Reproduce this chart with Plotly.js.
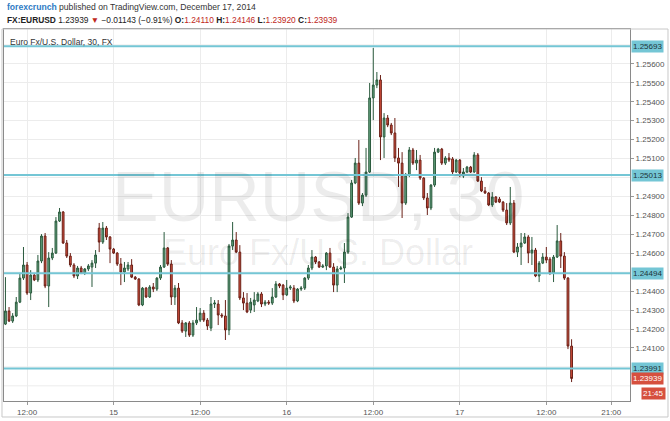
<!DOCTYPE html>
<html>
<head>
<meta charset="utf-8">
<script src="https://cdn.plot.ly/plotly-3.0.1.min.js"></script>
<style>html,body{margin:0;padding:0;background:#fff;}#chart{width:670px;height:421px;}</style>
</head>
<body>
<div id="chart"></div>
<script>
// EURUSD 30-minute candles, first bar 2014-12-14 09:00, one bar every 30 minutes
const firstBar = '2014-12-14T09:00:00Z';
const barMinutes = 30;

const openP = [
1.24226,1.24295,1.24242,1.24269,1.24342,1.24469,1.24538,1.24390,1.24485,1.24459,
1.24559,1.24691,1.24427,1.24575,1.24601,1.24770,1.24818,1.24654,1.24585,1.24538,
1.24480,1.24522,1.24496,1.24517,1.24527,1.24548,1.24733,1.24659,1.24733,1.24686,
1.24622,1.24601,1.24543,1.24501,1.24517,1.24538,1.24474,1.24464,1.24327,1.24416,
1.24369,1.24422,1.24411,1.24469,1.24527,1.24628,1.24543,1.24369,1.24416,1.24232,
1.24189,1.24232,1.24168,1.24232,1.24247,1.24284,1.24247,1.24205,1.24332,1.24332,
1.24274,1.24269,1.24195,1.24638,1.24670,1.24606,1.24364,1.24337,1.24300,1.24327,
1.24348,1.24385,1.24332,1.24342,1.24337,1.24369,1.24438,1.24432,1.24380,1.24416,
1.24416,1.24348,1.24411,1.24416,1.24469,1.24522,1.24580,1.24554,1.24527,1.24533,
1.24601,1.24527,1.24432,1.24517,1.24522,1.24606,1.24791,1.24971,1.25076,1.24865,
1.24907,1.25029,1.25420,1.25488,1.25515,1.25214,1.25314,1.25277,1.25235,1.25103,
1.25076,1.24865,1.25013,1.25145,1.25076,1.25092,1.24997,1.24892,1.24839,1.24960,
1.25134,1.25150,1.25076,1.25103,1.25098,1.25029,1.25092,1.25008,1.25029,1.25055,
1.25029,1.25119,1.24981,1.24929,1.24918,1.24855,1.24897,1.24886,1.24870,1.24828,
1.24760,1.24865,1.24606,1.24633,1.24654,1.24686,1.24601,1.24617,1.24480,1.24548,
1.24580,1.24569,1.24496,1.24580,1.24665,1.24585,1.24469,1.24110
];
const highP = [
1.24474,1.24316,1.24284,1.24369,1.24496,1.24633,1.24554,1.24511,1.24496,1.24591,
1.24701,1.24707,1.24606,1.24628,1.24791,1.24839,1.24823,1.24670,1.24601,1.24548,
1.24533,1.24533,1.24522,1.24543,1.24564,1.24617,1.24760,1.24765,1.24744,1.24691,
1.24628,1.24606,1.24575,1.24554,1.24554,1.24569,1.24480,1.24469,1.24422,1.24422,
1.24432,1.24443,1.24474,1.24538,1.24712,1.24633,1.24564,1.24432,1.24443,1.24247,
1.24237,1.24242,1.24247,1.24316,1.24311,1.24300,1.24258,1.24369,1.24353,1.24353,
1.24284,1.24353,1.24649,1.24765,1.24712,1.24643,1.24395,1.24390,1.24364,1.24395,
1.24395,1.24395,1.24353,1.24353,1.24416,1.24453,1.24443,1.24438,1.24459,1.24432,
1.24432,1.24416,1.24427,1.24474,1.24538,1.24617,1.24585,1.24559,1.24543,1.24606,
1.24628,1.24548,1.24533,1.24533,1.24654,1.24812,1.24987,1.25103,1.25198,1.24918,
1.25156,1.25499,1.25684,1.25557,1.25541,1.25340,1.25330,1.25288,1.25314,1.25156,
1.25134,1.25024,1.25161,1.25156,1.25145,1.25119,1.25002,1.24918,1.24965,1.25156,
1.25156,1.25156,1.25113,1.25129,1.25108,1.25098,1.25098,1.25050,1.25061,1.25061,
1.25134,1.25129,1.25002,1.24950,1.24923,1.24923,1.24902,1.24897,1.24876,1.24865,
1.24950,1.24881,1.24654,1.24707,1.24707,1.24696,1.24686,1.24628,1.24559,1.24601,
1.24633,1.24580,1.24591,1.24749,1.24707,1.24606,1.24474,1.24146
];
const lowP = [
1.24221,1.24237,1.24232,1.24263,1.24337,1.24459,1.24380,1.24353,1.24453,1.24448,
1.24548,1.24416,1.24316,1.24564,1.24596,1.24765,1.24649,1.24575,1.24527,1.24469,
1.24464,1.24490,1.24485,1.24506,1.24422,1.24522,1.24606,1.24649,1.24670,1.24548,
1.24596,1.24533,1.24432,1.24448,1.24506,1.24469,1.24459,1.24321,1.24321,1.24364,
1.24364,1.24395,1.24401,1.24459,1.24522,1.24533,1.24327,1.24327,1.24226,1.24179,
1.24158,1.24158,1.24158,1.24221,1.24237,1.24237,1.24195,1.24189,1.24311,1.24221,
1.24258,1.24142,1.24168,1.24617,1.24601,1.24353,1.24300,1.24284,1.24284,1.24290,
1.24342,1.24316,1.24321,1.24327,1.24327,1.24364,1.24416,1.24353,1.24374,1.24406,
1.24337,1.24342,1.24401,1.24406,1.24459,1.24511,1.24543,1.24522,1.24522,1.24511,
1.24522,1.24395,1.24395,1.24511,1.24443,1.24596,1.24786,1.24965,1.24855,1.24849,
1.24897,1.25024,1.25303,1.25472,1.25092,1.25103,1.25266,1.25224,1.25082,1.24950,
1.24786,1.24855,1.25002,1.25066,1.25039,1.24987,1.24881,1.24802,1.24828,1.24950,
1.25129,1.25066,1.25066,1.25082,1.25018,1.25024,1.25002,1.24997,1.25024,1.25024,
1.25024,1.24976,1.24923,1.24913,1.24849,1.24844,1.24865,1.24865,1.24818,1.24749,
1.24749,1.24601,1.24580,1.24538,1.24649,1.24548,1.24538,1.24474,1.24448,1.24543,
1.24548,1.24485,1.24448,1.24575,1.24522,1.24459,1.24094,1.23920
];
const closeP = [
1.24295,1.24242,1.24269,1.24342,1.24469,1.24538,1.24390,1.24485,1.24459,1.24559,
1.24691,1.24427,1.24575,1.24601,1.24770,1.24818,1.24654,1.24585,1.24538,1.24480,
1.24522,1.24496,1.24517,1.24533,1.24548,1.24591,1.24659,1.24733,1.24686,1.24622,
1.24601,1.24543,1.24501,1.24522,1.24538,1.24474,1.24464,1.24327,1.24416,1.24369,
1.24422,1.24411,1.24469,1.24527,1.24628,1.24543,1.24369,1.24416,1.24232,1.24189,
1.24232,1.24168,1.24232,1.24247,1.24284,1.24247,1.24216,1.24332,1.24337,1.24274,
1.24269,1.24195,1.24638,1.24670,1.24606,1.24364,1.24337,1.24290,1.24342,1.24353,
1.24385,1.24332,1.24342,1.24337,1.24369,1.24438,1.24427,1.24380,1.24416,1.24422,
1.24348,1.24411,1.24416,1.24469,1.24522,1.24580,1.24554,1.24527,1.24533,1.24601,
1.24527,1.24432,1.24517,1.24522,1.24606,1.24791,1.24971,1.25076,1.24865,1.24907,
1.25029,1.25420,1.25488,1.25515,1.25214,1.25314,1.25277,1.25235,1.25103,1.25076,
1.24865,1.25013,1.25145,1.25076,1.25092,1.24997,1.24892,1.24839,1.24960,1.25134,
1.25150,1.25076,1.25103,1.25092,1.25029,1.25092,1.25024,1.25029,1.25055,1.25029,
1.25119,1.24981,1.24929,1.24918,1.24855,1.24897,1.24870,1.24870,1.24828,1.24760,
1.24865,1.24606,1.24633,1.24654,1.24686,1.24601,1.24617,1.24480,1.24548,1.24580,
1.24564,1.24496,1.24580,1.24665,1.24585,1.24469,1.24110,1.23939
];

// horizontal levels drawn on the chart
const levels = [1.25693, 1.25013, 1.24494, 1.23991];
const lastPrice = 1.23939;
const countdown = '21:45';

// axis ticks
const xTickVals = ['2014-12-14 12:00','2014-12-15 00:00','2014-12-15 12:00','2014-12-16 00:00','2014-12-16 12:00','2014-12-17 00:00','2014-12-17 12:00','2014-12-17 21:00'];
const xTickText = ['12:00','15','12:00','16','12:00','17','12:00','21:00'];
// visible price labels (those under the level boxes are hidden in the reference)
const yTickVals = [1.241,1.242,1.243,1.244,1.246,1.247,1.248,1.249,1.251,1.252,1.253,1.254,1.255,1.256];
const yHiddenGrid = [1.239,1.240,1.245,1.250,1.257];

const times = [];
const t0 = Date.parse(firstBar);
for (let i = 0; i < openP.length; i++) {
  times.push(new Date(t0 + i * barMinutes * 60000).toISOString().slice(0,16).replace('T',' '));
}

const FONT = 'Liberation Sans, Arial, sans-serif';
const CYAN = '#74c6d5';
const RED = '#d6503e';

const trace = {
  type: 'candlestick',
  x: times, open: openP, high: highP, low: lowP, close: closeP,
  increasing: {line: {color: '#2a5a3d', width: 1}, fillcolor: '#64a37f'},
  decreasing: {line: {color: '#6a2017', width: 1}, fillcolor: '#d6503e'},
  whiskerwidth: 0,
  hoverinfo: 'skip',
  showlegend: false
};

const shapes = [];
yHiddenGrid.forEach(v => shapes.push({
  type: 'line', xref: 'paper', x0: 0, x1: 1, yref: 'y', y0: v, y1: v, layer: 'below',
  line: {color: '#ececec', width: 1}
}));
levels.forEach(v => shapes.push({
  type: 'line', xref: 'paper', x0: 0, x1: 1, yref: 'y', y0: v, y1: v,
  line: {color: CYAN, width: 2}
}));
shapes.push({type:'rect', xref:'paper', yref:'paper', x0:-0.0032, x1:1.0607, y0:-0.043, y1:1.0,
  line:{color:'#c8c8c8', width:1}, fillcolor:'rgba(0,0,0,0)'});

const annotations = [];
levels.forEach(v => annotations.push({
  xref:'paper', x:1, xanchor:'left', xshift:1, yref:'y', y:v, yanchor:'middle',
  text: v.toFixed(5), showarrow:false, bgcolor: CYAN, borderpad:1,
  font:{family:FONT, size:8, color:'#1d3338'}
}));
annotations.push({
  xref:'paper', x:1, xanchor:'left', xshift:1, yref:'y', y:lastPrice, yanchor:'middle',
  text: lastPrice.toFixed(5), showarrow:false, bgcolor: RED, borderpad:1,
  font:{family:FONT, size:8, color:'#ffffff'}
});
annotations.push({
  xref:'paper', x:1.0176, xanchor:'left', yref:'y', y:lastPrice, yanchor:'middle', yshift:-15,
  text: countdown, showarrow:false, bgcolor: RED, borderpad:1,
  font:{family:FONT, size:8, color:'#ffffff'}
});
// header
annotations.push({
  xref:'paper', yref:'paper', x:0.0016, y:1.0591, xanchor:'left', yanchor:'middle', showarrow:false,
  text:'<span style="color:#2e7bc4"><b>forexcrunch</b></span> published on TradingView.com, December 17, 2014',
  font:{family:FONT, size:8.6, color:'#333'}
});
annotations.push({
  xref:'paper', yref:'paper', x:0.0016, y:1.0242, xanchor:'left', yanchor:'middle', showarrow:false,
  text:'<b>FX:EURUSD</b> 1.23939 <span style="color:#c0281b">▼</span> −0.01143 (−0.91%) <b>O:</b><span style="color:#c0281b">1.24110</span> <b>H:</b><span style="color:#c0281b">1.24146</span> <b>L:</b><span style="color:#c0281b">1.23920</span> <b>C:</b><span style="color:#c0281b">1.23939</span>',
  font:{family:FONT, size:8.4, color:'#222'}
});
annotations.push({
  xref:'paper', yref:'paper', x:0.006, y:0.9659, xanchor:'left', yanchor:'middle', showarrow:false,
  text:'Euro Fx/U.S. Dollar, 30, FX', font:{family:FONT, size:8.5, color:'#333'}
});
// watermark
annotations.push({
  xref:'paper', yref:'paper', x:0.5016, y:0.5484, xanchor:'center', yanchor:'middle', showarrow:false,
  text:'EURUSD, 30', font:{family:FONT, size:70, color:'rgba(0,0,0,0.075)'}
});
annotations.push({
  xref:'paper', yref:'paper', x:0.5016, y:0.4005, xanchor:'center', yanchor:'middle', showarrow:false,
  text:'Euro Fx/U.S. Dollar', font:{family:FONT, size:36, color:'rgba(0,0,0,0.075)'}
});

const layout = {
  width: 670, height: 421,
  margin: {l:4, r:40, t:29, b:20},
  paper_bgcolor: '#ffffff', plot_bgcolor: '#ffffff',
  showlegend: false,
  font: {family: FONT, size: 8, color: '#555'},
  xaxis: {
    type: 'date', range: ['2014-12-14 08:48', '2014-12-17 23:36'],
    tickvals: xTickVals, ticktext: xTickText,
    showgrid: true, gridcolor: '#ececec', gridwidth: 1,
    showline: true, linecolor: '#8a8a8a', linewidth: 1, mirror: true,
    ticks: 'outside', ticklen: 3, tickcolor: '#9a9a9a',
    tickfont: {family: FONT, size: 8, color: '#555'},
    rangeslider: {visible: false}, fixedrange: true, zeroline: false
  },
  yaxis: {
    side: 'right', range: [1.23820, 1.25784],
    tickvals: yTickVals, tickformat: '.5f',
    showgrid: true, gridcolor: '#ececec', gridwidth: 1,
    showline: true, linecolor: '#8a8a8a', linewidth: 1, mirror: true,
    ticks: 'outside', ticklen: 3, tickcolor: '#9a9a9a',
    tickfont: {family: FONT, size: 8, color: '#555'},
    fixedrange: true, zeroline: false
  },
  shapes: shapes,
  annotations: annotations
};

Plotly.newPlot('chart', [trace], layout, {displayModeBar: false, staticPlot: true});
</script>
</body>
</html>
